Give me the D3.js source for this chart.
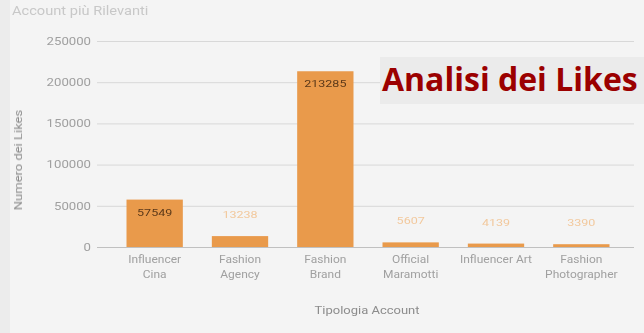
<!DOCTYPE html>
<html>
<head>
<meta charset="utf-8">
<script src="https://cdn.jsdelivr.net/npm/d3@7"></script>
<style>
  html, body { margin: 0; padding: 0; background: #f4f4f4; }
  svg { display: block; font-family: Roboto, "Liberation Sans", sans-serif; }
</style>
</head>
<body>
<svg id="chart" width="644" height="333"></svg>
<script>
// Likes per account type
const categories = [
  ["Influencer", "Cina"],
  ["Fashion", "Agency"],
  ["Fashion", "Brand"],
  ["Official", "Maramotti"],
  ["Influencer Art"],
  ["Fashion", "Photographer"]
];
const likes = [57549, 13238, 213285, 5607, 4139, 3390];
const yTicks = [0, 50000, 100000, 150000, 200000, 250000];

const svg = d3.select("#chart");
const W = 644, H = 333;

// page background with slightly darker left strip
svg.append("rect").attr("width", W).attr("height", H).attr("fill", "#f4f4f4");
svg.append("rect").attr("width", 10).attr("height", H).attr("fill", "#ececec");

const margin = { left: 112, right: 20, top: 41, bottom: 86 };
const gridLeft = 97, gridRight = 634;
const keys = categories.map((c, i) => i);

const x = d3.scaleBand()
  .domain(keys)
  .range([margin.left, W - margin.right])
  .paddingInner(0.34)
  .paddingOuter(0.17);

const y = d3.scaleLinear()
  .domain([0, 250000])
  .range([H - margin.bottom, margin.top]);

const defs = svg.append("defs");
defs.append("filter").attr("id", "soft")
  .append("feGaussianBlur").attr("stdDeviation", 0.5);
const g = svg.append("g").attr("filter", "url(#soft)");

// place a text at (px, py) with a horizontally widened face
function placeWide(sel, px, py, sx) {
  sel.attr("x", 0).attr("y", 0)
    .attr("transform", `translate(${px},${py}) scale(${sx},1)`);
  return sel;
}

// subtitle
placeWide(g.append("text"), 12, 15, 1.22)
  .attr("font-size", 12).attr("fill", "#c8c8c8")
  .text("Account più Rilevanti");

// y axis with gridlines
const yAxis = d3.axisLeft(y)
  .tickValues(yTicks)
  .tickFormat(d3.format("d"))
  .tickSize(-(gridRight - gridLeft))
  .tickPadding(6);

const ya = g.append("g")
  .attr("transform", `translate(${gridLeft},0)`)
  .call(yAxis);
ya.select(".domain").remove();
ya.selectAll(".tick line").attr("stroke", "#d8d8d8").attr("stroke-width", 1);
ya.selectAll(".tick").filter(d => d === 0).select("line").attr("stroke", "#c0c0c0");
ya.selectAll(".tick text")
  .attr("fill", "#a0a0a0").attr("font-size", 10)
  .attr("font-family", "Roboto, sans-serif")
  .attr("x", -6 / 1.32)
  .attr("transform", "scale(1.32,1)");

// bars
g.selectAll("rect.bar")
  .data(likes)
  .join("rect")
  .attr("class", "bar")
  .attr("x", (d, i) => x(i))
  .attr("width", x.bandwidth())
  .attr("y", d => y(d))
  .attr("height", d => y(0) - y(d))
  .attr("fill", "#e99a4c");

// value labels: inside tall bars, above short ones
const inside = d => (y(0) - y(d) > 30);
g.selectAll("text.val")
  .data(likes)
  .join("text")
  .attr("class", "val")
  .each(function(d, i) {
    placeWide(d3.select(this),
      x(i) + x.bandwidth() / 2,
      inside(d) ? y(d) + 16 : y(d) - 18,
      1.32);
  })
  .attr("text-anchor", "middle")
  .attr("font-size", 9.5)
  .attr("fill", d => inside(d) ? "#5a3818" : "#f2c89c")
  .text(d => d);

// category labels
g.selectAll("text.cat")
  .data(categories)
  .join("text")
  .attr("class", "cat")
  .each(function(d, i) {
    const t = placeWide(d3.select(this), x(i) + x.bandwidth() / 2, y(0) + 16, 1.2);
    d.forEach((line, j) => {
      t.append("tspan")
        .attr("x", 0)
        .attr("dy", j === 0 ? 0 : 15.5)
        .text(line);
    });
  })
  .attr("text-anchor", "middle")
  .attr("font-size", 10)
  .attr("fill", "#a0a0a0");

// axis titles
placeWide(g.append("text"), (margin.left + W - margin.right) / 2 - 1, 314, 1.3)
  .attr("text-anchor", "middle")
  .attr("font-size", 10)
  .attr("fill", "#8c8c8c")
  .text("Tipologia Account");

g.append("text")
  .attr("transform", `translate(22,${(margin.top + H - margin.bottom) / 2 + 16}) rotate(-90) scale(1.3,1)`)
  .attr("text-anchor", "middle")
  .attr("font-size", 10)
  .attr("fill", "#8c8c8c")
  .text("Numero dei Likes");

// headline box
svg.append("rect")
  .attr("x", 380).attr("y", 57)
  .attr("width", W - 380).attr("height", 47)
  .attr("fill", "#ebebeb");
svg.append("text")
  .attr("x", 382).attr("y", 91)
  .attr("font-size", 32)
  .attr("font-weight", "bold")
  .attr("font-family", "'Open Sans', 'Noto Sans', sans-serif")
  .attr("fill", "#9b0000")
  .text("Analisi dei Likes");
</script>
</body>
</html>
